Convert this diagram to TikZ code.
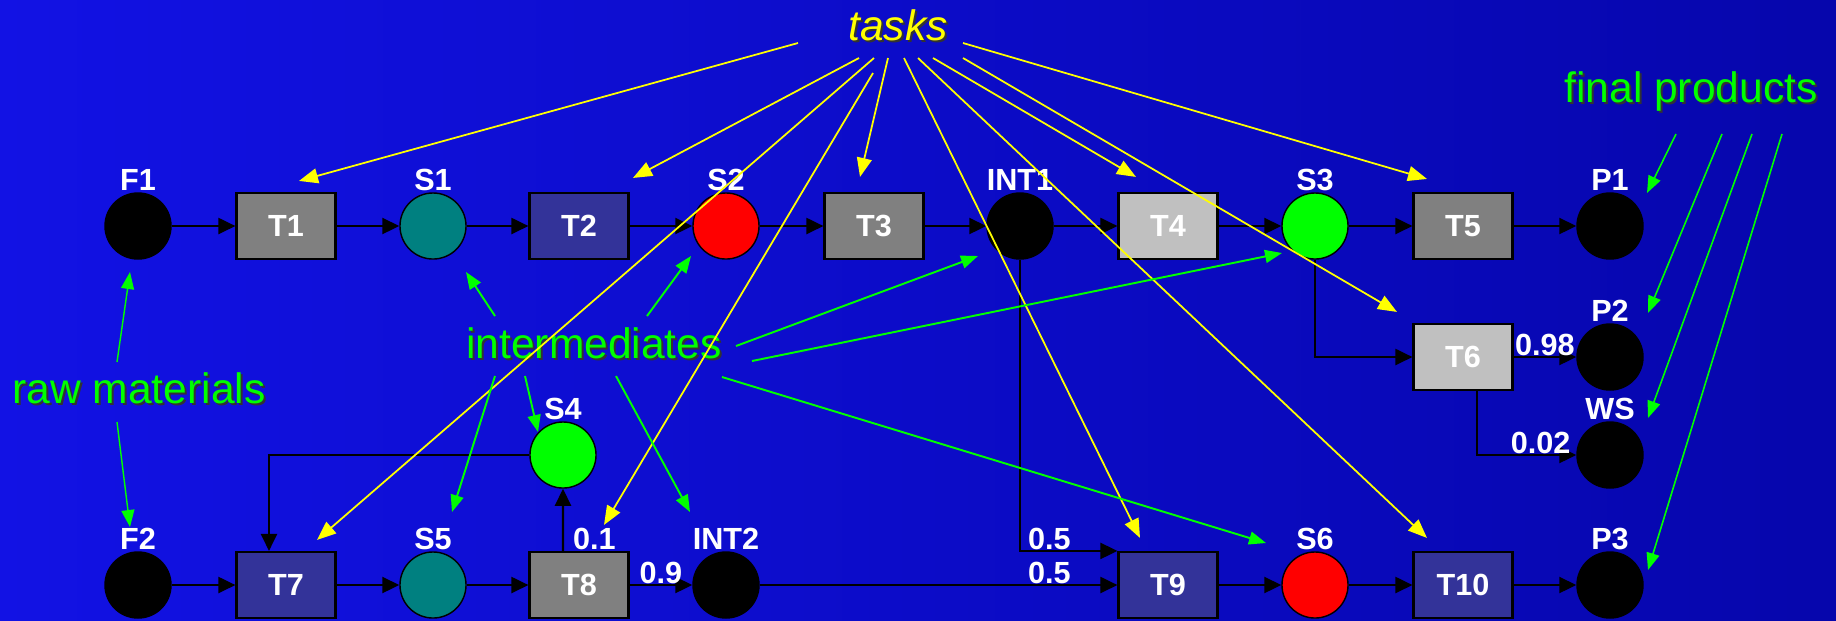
\documentclass[tikz,border=0pt]{standalone}
\usepackage{fontspec}
\setmainfont{Liberation Sans}
\usetikzlibrary{arrows.meta}

\definecolor{bgleft}{RGB}{18,18,228}
\definecolor{bgright}{RGB}{6,6,172}
\definecolor{stteal}{RGB}{0,128,128}
\definecolor{stred}{RGB}{255,0,0}
\definecolor{stgreen}{RGB}{0,255,0}
\definecolor{tkgray}{RGB}{128,128,128}
\definecolor{tklight}{RGB}{192,192,192}
\definecolor{tkslate}{RGB}{51,51,153}
\definecolor{hintyellow}{RGB}{255,255,0}
\definecolor{hintgreen}{RGB}{0,255,0}

\newcommand{\lblfont}{\fontsize{8.7}{10}\selectfont\bfseries}
\newcommand{\capfont}{\fontsize{12.1}{14}\selectfont}
% coloured caption with a dark drop shadow
\newcommand{\shadowed}[2]{\makebox[0pt][l]{\hspace{0.02cm}\raisebox{-0.02cm}{\color{black!80}#2}}\textcolor{#1}{#2}}

\begin{document}
\begin{tikzpicture}[x=0.01cm,y=-0.01cm,
    State/.style={circle,draw=black,thin,minimum size=0.66cm,inner sep=0pt},
    Task/.style={rectangle,draw=black,line width=0.6pt,minimum width=0.99cm,minimum height=0.66cm,inner sep=0pt,text=white,font=\lblfont},
    Lbl/.style={text=white,font=\lblfont,inner sep=0pt},
    Cap/.style={font=\capfont,inner sep=0pt,anchor=base},
    Flow/.style={-{Triangle[length=0.17cm,width=0.16cm]},line width=0.6pt},
    TaskHint/.style={-{Triangle[length=0.19cm,width=0.15cm]},draw=hintyellow,line width=0.5pt},
    StateHint/.style={-{Triangle[length=0.17cm,width=0.13cm]},draw=hintgreen,line width=0.55pt},
    label distance=0.01cm]

    \shade[left color=bgleft,right color=bgright] (0,0) rectangle (1836,620);

    % upper line
    \node[State,fill=black,label={[Lbl]above:F1}] (F1) at (138,226) {};
    \node[Task,fill=tkgray] (T1) at (286,226) {T1};
    \node[State,fill=stteal,label={[Lbl]above:S1}] (S1) at (433,226) {};
    \node[Task,fill=tkslate] (T2) at (579,226) {T2};
    \node[State,fill=stred,label={[Lbl]above:S2}] (S2) at (726,226) {};
    \node[Task,fill=tkgray] (T3) at (874,226) {T3};
    \node[State,fill=black,label={[Lbl]above:INT1}] (INT1) at (1020,226) {};
    \node[Task,fill=tklight] (T4) at (1168,226) {T4};
    \node[State,fill=stgreen,label={[Lbl]above:S3}] (S3) at (1315,226) {};
    \node[Task,fill=tkgray] (T5) at (1463,226) {T5};
    \node[State,fill=black,label={[Lbl]above:P1}] (P1) at (1610,226) {};
    \node[Task,fill=tklight] (T6) at (1463,357) {T6};
    \node[State,fill=black,label={[Lbl]above:P2}] (P2) at (1610,357) {};
    \node[State,fill=black,label={[Lbl]above:WS}] (WS) at (1610,455) {};
    \node[State,fill=stgreen,label={[Lbl]above:S4}] (S4) at (563,455) {};

    % lower line
    \node[State,fill=black,label={[Lbl]above:F2}] (F2) at (138,585) {};
    \node[Task,fill=tkslate] (T7) at (286,585) {T7};
    \node[State,fill=stteal,label={[Lbl]above:S5}] (S5) at (433,585) {};
    \node[Task,fill=tkgray] (T8) at (579,585) {T8};
    \node[State,fill=black,label={[Lbl]above:INT2}] (INT2) at (726,585) {};
    \node[Task,fill=tkslate] (T9) at (1168,585) {T9};
    \node[State,fill=stred,label={[Lbl]above:S6}] (S6) at (1315,585) {};
    \node[Task,fill=tkslate] (T10) at (1463,585) {T10};
    \node[State,fill=black,label={[Lbl]above:P3}] (P3) at (1610,585) {};

    \foreach \a/\b in {F1/T1,T1/S1,S1/T2,T2/S2,S2/T3,T3/INT1,INT1/T4,T4/S3,S3/T5,T5/P1,
                       F2/T7,T7/S5,S5/T8,T9/S6,S6/T10,T10/P3}
        \draw[Flow] (\a) -- (\b);
    \draw[Flow] (S3) |- (T6);
    \draw[Flow] (T6) -- node[Lbl,above] {0.98} (P2);
    \draw[Flow] ([xshift=0.14cm]T6.south) |- node[Lbl,pos=0.82,above] {0.02} (WS);
    \draw[Flow] (T8) -- node[Lbl,above] {0.9} (INT2);
    \draw[Flow] ([xshift=-0.16cm]T8.north) -- node[Lbl,pos=0,anchor=south west,xshift=0.09cm] {0.1} (S4);
    \draw[Flow] (S4) -| ([xshift=-0.17cm]T7.north);
    \draw[Flow] (INT1) |- node[Lbl,pos=0.5,anchor=south west,xshift=0.07cm] {0.5} (T9.north west);
    \draw[Flow] (INT2) -- node[Lbl,pos=0.81,above] {0.5} (T9);

    % captions
    \node[Cap] (tasks) at (898,40) {\shadowed{hintyellow}{\itshape tasks}};
    \node[Cap] (inter) at (594,358) {\shadowed{hintgreen}{intermediates}};
    \node[Cap] (raw) at (139,403) {\shadowed{hintgreen}{raw materials}};
    \node[Cap] (final) at (1691,102) {\shadowed{hintgreen}{final products}};

    \foreach \t/\sx/\sy/\ex/\ey in {T1/-100/3/13/-11, T2/-39/18/54/-14, T7/-24/18/31/-11,
            T8/-25/33/25/-26, T3/-10/18/-14/-15, T9/6/18/-28/-13, T10/20/18/-36/-13,
            T4/35/18/-32/-15, T6/65/18/-66/-11, T5/65/3/-36/-13}
        \draw[TaskHint] ([shift={(\sx,\sy)}]tasks.base) -- ([shift={(\ex,\ey)}]\t.north);
    \foreach \t/\sx/\sy/\ex/\ey in {S1/-99/-42/33/46, S2/53/-42/-35/30, INT1/142/-12/-42/30,
            S3/158/3/-33/27, S6/128/19/-49/-42, INT2/22/18/-36/-73, S5/-99/18/19/-73,
            S4/-69/18/-25/-23}
        \draw[StateHint] ([shift={(\sx,\sy)}]inter.base) -- ([shift={(\ex,\ey)}]\t.center);
    \foreach \t/\sy/\ey in {F1/-41/46, F2/19/-58}
        \draw[StateHint,line width=0.4pt] ([shift={(-22,\sy)}]raw.base) -- ([shift={(-8,\ey)}]\t.center);
    \foreach \t/\sx/\ex/\ey in {P1/-15/37/-33, P2/31/38/-44, WS/61/38/-37, P3/91/38/-15}
        \draw[StateHint,line width=0.45pt] ([shift={(\sx,32)}]final.base) -- ([shift={(\ex,\ey)}]\t.center);
\end{tikzpicture}
\end{document}
